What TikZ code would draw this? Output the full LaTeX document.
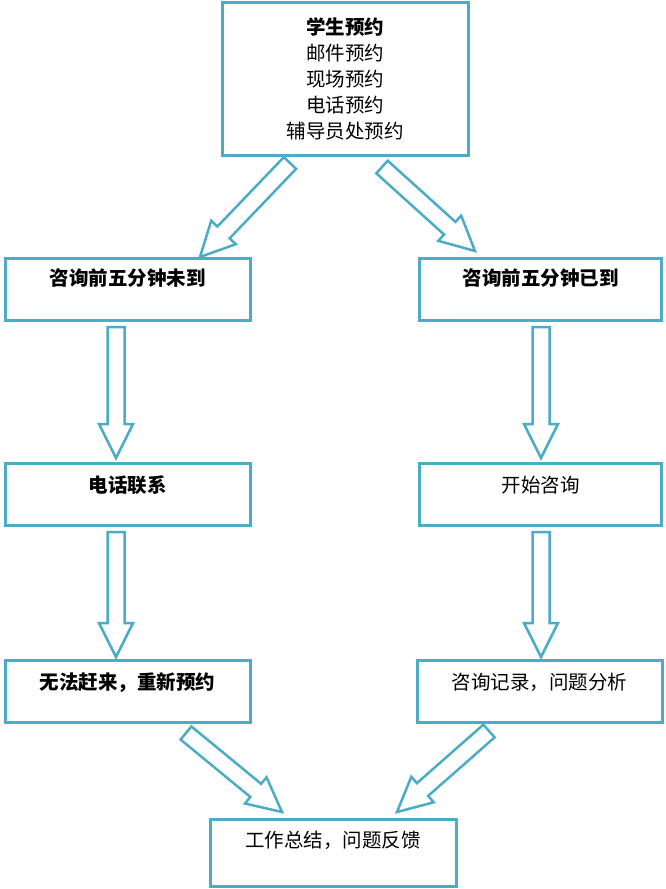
\documentclass[tikz,border=0pt]{standalone}
\usepackage{fontspec}
\setmainfont{Noto Sans CJK SC}
\usetikzlibrary{calc}
\definecolor{aqua}{HTML}{4BACC6}
\tikzset{
  box/.style={draw=aqua, line width=3pt, fill=white, inner sep=0pt, minimum height=62pt},
  lbox/.style={box, minimum width=245pt},
  rbox/.style={box, minimum width=242pt},
  txt/.style={font=\fontsize{19.5}{24}\selectfont, text=black},
  blockarr/.style={draw=aqua, line width=2.5pt, fill=white, line join=miter},
}
\newcommand{\blockarrowdraw}[2]{%
  \coordinate (#1-h) at ($(#2)!34pt!(#1)$);
  \draw[blockarr] ($(#1)!8.5pt!90:(#2)$) -- ($(#1-h)!8.5pt!90:(#2)$) -- ($(#1-h)!17pt!90:(#2)$) -- (#2) -- ($(#1-h)!17pt!-90:(#2)$) -- ($(#1-h)!8.5pt!-90:(#2)$) -- ($(#1)!8.5pt!-90:(#2)$) -- cycle;}
\begin{document}
\begin{tikzpicture}[x=1pt, y=-1pt]
\useasboundingbox (0,0) rectangle (665,889);
% boxes
\node[box, minimum width=246pt, minimum height=153pt, align=center, txt,
      font=\fontsize{19.5}{26}\selectfont] (top) at (345,78.5)
  {\textbf{学生预约}\\邮件预约\\现场预约\\电话预约\\辅导员处预约};
\node[lbox, label={[txt, anchor=center, yshift=-22pt]north:\textbf{咨询前五分钟未到}}] (a1) at (127.5,289) {};
\node[rbox, label={[txt, anchor=center, yshift=-22pt]north:\textbf{咨询前五分钟已到}}] (b1) at (540.5,289) {};
\node[lbox, label={[txt, anchor=center, yshift=-24pt]north:\textbf{电话联系}}] (a2) at (127.5,494) {};
\node[rbox, label={[txt, anchor=center, yshift=-24pt]north:开始咨询}] (b2) at (540.5,494) {};
\node[lbox, label={[txt, anchor=center, yshift=-24pt]north:\textbf{无法赶来，重新预约}}] (a3) at (127.5,691) {};
\node[lbox, label={[txt, anchor=center, yshift=-24pt]north:咨询记录，问题分析}] (b3) at (539.5,691) {};
\node[box, minimum width=246pt, minimum height=67pt, label={[txt, anchor=center, yshift=-23pt]north:工作总结，问题反馈}] (bot) at (333,852.5) {};
% arrow end points
\coordinate (t1s) at (290,163); \coordinate (t1e) at (200,257);
\coordinate (t2s) at (382,167); \coordinate (t2e) at (475,251);
\coordinate (l1s) at (116,327); \coordinate (l1e) at (116,458);
\coordinate (r1s) at (541,327); \coordinate (r1e) at (541,458);
\coordinate (l2s) at (116,532); \coordinate (l2e) at (116,657);
\coordinate (r2s) at (541,532); \coordinate (r2e) at (541,657);
\coordinate (d1s) at (186,733); \coordinate (d1e) at (282,812);
\coordinate (d2s) at (489,731); \coordinate (d2e) at (397,812);
\blockarrowdraw{t1s}{t1e}
\blockarrowdraw{t2s}{t2e}
\blockarrowdraw{l1s}{l1e}
\blockarrowdraw{r1s}{r1e}
\blockarrowdraw{l2s}{l2e}
\blockarrowdraw{r2s}{r2e}
\blockarrowdraw{d1s}{d1e}
\blockarrowdraw{d2s}{d2e}
\end{tikzpicture}
\end{document}
